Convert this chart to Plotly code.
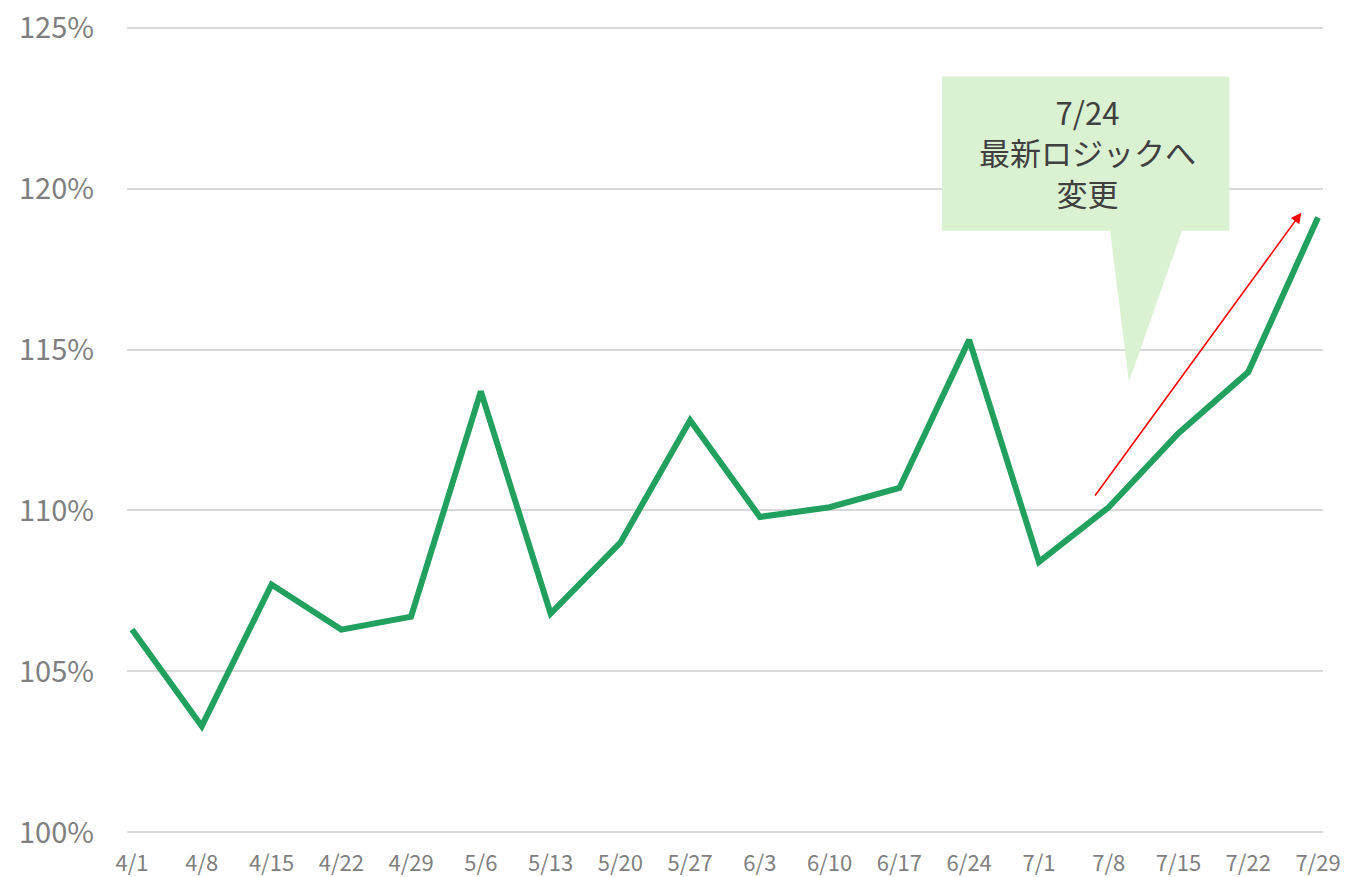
import plotly.graph_objects as go

dates = ["4/1", "4/8", "4/15", "4/22", "4/29", "5/6", "5/13", "5/20", "5/27",
         "6/3", "6/10", "6/17", "6/24", "7/1", "7/8", "7/15", "7/22", "7/29"]
values = [106.3, 103.3, 107.7, 106.3, 106.7, 113.7, 106.8, 109.0, 112.8,
          109.8, 110.1, 110.7, 115.3, 108.4, 110.1, 112.4, 114.3, 119.1]
y_ticks = [100, 105, 110, 115, 120, 125]

xs = list(range(len(dates)))
FONT = "Noto Sans CJK JP"

fig = go.Figure()
fig.add_trace(go.Scatter(
    x=xs, y=values, mode="lines",
    line=dict(color="#21A05E", width=6),
    hoverinfo="skip", showlegend=False,
))

# callout balloon (data coordinates)
path = ("M 11.61,118.69 L 11.61,123.48 L 15.73,123.48 L 15.73,118.69 "
        "L 15.05,118.69 L 14.29,113.99 L 14.02,118.69 Z")
fig.add_shape(type="path", path=path, xref="x", yref="y",
              fillcolor="#DAF2D2", line=dict(width=0), layer="above")

fig.add_annotation(x=13.69, y=121.15, xref="x", yref="y",
                   text="7/24<br>最新ロジックへ<br>変更", showarrow=False,
                   font=dict(family=FONT, size=31, color="#404040"),
                   align="center")

# red arrow
fig.add_annotation(x=16.76, y=119.25, ax=13.79, ay=110.42,
                   xref="x", yref="y", axref="x", ayref="y",
                   text="", showarrow=True, arrowhead=2, arrowsize=1.3,
                   arrowwidth=1.6, arrowcolor="#FF0000")

fig.update_layout(
    width=1341, height=869,
    margin=dict(l=119, r=26, t=18.4, b=43.4, autoexpand=False),
    paper_bgcolor="white", plot_bgcolor="white",
    font=dict(family=FONT, color="#7F7F7F"),
    xaxis=dict(
        range=[-0.0717, 17.0717],
        tickvals=xs, ticktext=dates,
        showgrid=False, zeroline=False, showline=False,
        ticks="", tickfont=dict(size=22, color="#7F7F7F"),
        ticklabelstandoff=14, automargin=False,
        ticklabeloverflow="allow",
    ),
    yaxis=dict(
        range=[99.95, 125.05],
        tickvals=y_ticks, ticktext=[f"{v}%" for v in y_ticks],
        showgrid=True, gridcolor="#D9D9D9", gridwidth=1.5,
        zeroline=False, showline=False, ticks="",
        tickfont=dict(size=29, color="#7F7F7F"),
        ticklabelstandoff=32, automargin=False,
        ticklabeloverflow="allow",
    ),
)

fig.write_html("out.html")
